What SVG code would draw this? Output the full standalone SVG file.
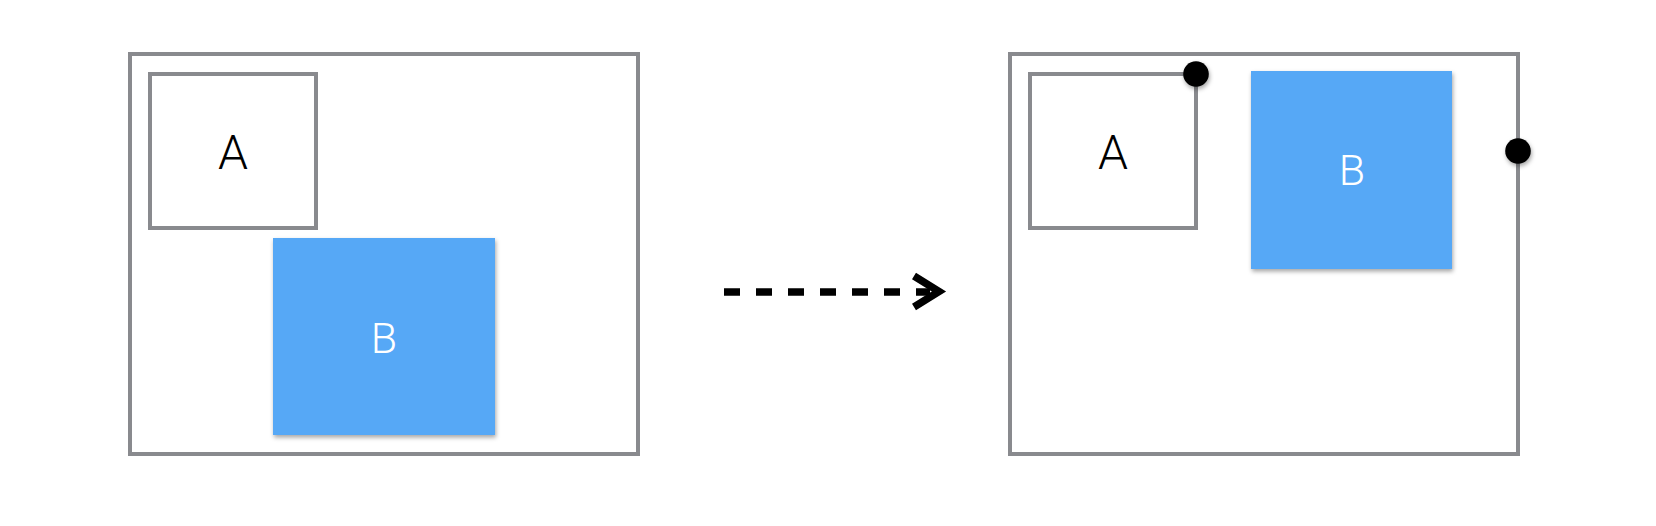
<svg xmlns="http://www.w3.org/2000/svg" width="1656" height="526" viewBox="0 0 1656 526">
  <defs>
    <filter id="shadow" x="-20%" y="-20%" width="140%" height="150%">
      <feDropShadow dx="1" dy="2.5" stdDeviation="2" flood-color="#000" flood-opacity="0.35"/>
    </filter>
    <style>
      .frame { fill: #fff; stroke: #898a8e; stroke-width: 4; }
      .boxA { fill: #fff; stroke: #898a8e; stroke-width: 4; }
      .boxB { fill: #56a8f6; filter: url(#shadow); }
      .dot { fill: #000; filter: url(#shadow); }
      .lblA { font-family: Roboto, "Liberation Sans", sans-serif; font-weight: 300; font-size: 48px; fill: #000; text-anchor: middle; }
      .lblB { font-family: Roboto, "Liberation Sans", sans-serif; font-weight: 300; font-size: 43px; fill: #fff; text-anchor: middle; }
      .dash { fill: none; stroke: #000; stroke-width: 7.5; stroke-dasharray: 16 16; }
      .head { fill: none; stroke: #000; stroke-width: 7.5; stroke-linejoin: miter; stroke-miterlimit: 10; }
    </style>
  </defs>
  <rect width="1656" height="526" fill="#fff"/>

  <g id="before">
    <rect id="frame-left" class="frame" x="130" y="54" width="508" height="400"/>
    <g id="left-A">
      <rect class="boxA" x="150" y="74" width="166" height="154"/>
      <text class="lblA" x="233" y="169">A</text>
    </g>
    <g id="left-B">
      <rect class="boxB" x="273" y="238" width="222" height="197"/>
      <text class="lblB" x="384" y="353">B</text>
    </g>
  </g>

  <g id="connectors">
    <line class="dash" x1="724" y1="292" x2="930" y2="292"/>
    <polyline class="head" points="914,276 939,291.5 914,307"/>
  </g>

  <g id="after">
    <rect id="frame-right" class="frame" x="1010" y="54" width="508" height="400"/>
    <g id="right-A">
      <rect class="boxA" x="1030" y="74" width="166" height="154"/>
      <text class="lblA" x="1113" y="169">A</text>
    </g>
    <g id="right-B">
      <rect class="boxB" x="1251" y="71" width="201" height="198"/>
      <text class="lblB" x="1352" y="185">B</text>
    </g>
    <g id="dots">
      <circle class="dot" cx="1196" cy="74" r="12.8"/>
      <circle class="dot" cx="1518" cy="151" r="12.8"/>
    </g>
  </g>
</svg>
